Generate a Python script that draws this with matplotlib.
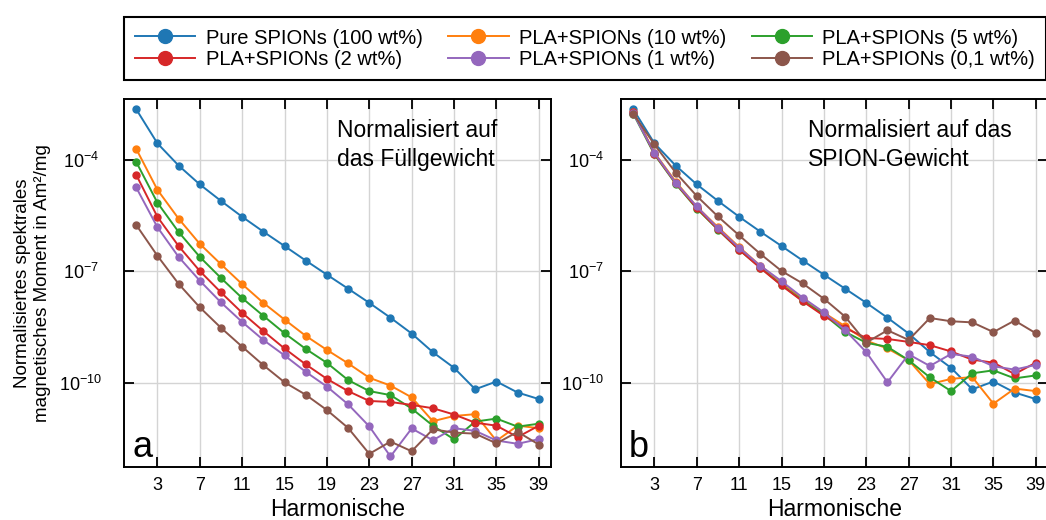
import numpy as np
import matplotlib
matplotlib.use("Agg")
import matplotlib.pyplot as plt

plt.rcParams['font.family'] = ['Liberation Sans', 'DejaVu Sans']
plt.rcParams['mathtext.fontset'] = 'custom'
plt.rcParams['mathtext.rm'] = 'Liberation Sans'
plt.rcParams['mathtext.it'] = 'Liberation Sans:italic'
plt.rcParams['mathtext.bf'] = 'Liberation Sans:bold'

# odd harmonics
harmonics = np.arange(1, 40, 2)

labels = ['Pure SPIONs (100 wt%)', 'PLA+SPIONs (10 wt%)', 'PLA+SPIONs (5 wt%)',
          'PLA+SPIONs (2 wt%)', 'PLA+SPIONs (1 wt%)', 'PLA+SPIONs (0,1 wt%)']
colors = ['#1f77b4', '#ff7f0e', '#2ca02c', '#d62728', '#9467bd', '#8c564b']
# SPION mass fraction in wt%
wt = [100, 10, 5, 2, 1, 0.1]

# spectral moment normalised to fill weight (Am^2/mg)
pure_100 = [2.34e-3, 2.82e-4, 7.1e-5, 2.2e-5, 7.9e-6, 2.95e-6, 1.17e-6, 4.8e-7,
            1.95e-7, 8.1e-8, 3.4e-8, 1.41e-8, 5.6e-9, 2.1e-9, 6.6e-10, 2.5e-10,
            6.6e-11, 1.07e-10, 5.4e-11, 3.6e-11]
pla_10 = [2.0e-4, 1.58e-5, 2.63e-6, 5.5e-7, 1.55e-7, 4.5e-8, 1.41e-8, 5.0e-9,
          1.82e-9, 7.6e-10, 3.3e-10, 1.35e-10, 8.3e-11, 4.0e-11, 9.1e-12,
          1.26e-11, 1.41e-11, 2.7e-12, 6.9e-12, 5.9e-12]
pla_5 = [8.9e-5, 7.1e-6, 1.15e-6, 2.45e-7, 6.6e-8, 1.9e-8, 6.3e-9, 2.14e-9,
         8.1e-10, 3.4e-10, 1.17e-10, 5.9e-11, 4.6e-11, 2.0e-11, 6.9e-12,
         2.95e-12, 8.9e-12, 1.07e-11, 6.5e-12, 7.8e-12]
pla_2 = [4.0e-5, 2.95e-6, 4.8e-7, 1.02e-7, 2.7e-8, 7.6e-9, 2.45e-9, 8.3e-10,
         3.1e-10, 1.26e-10, 5.9e-11, 3.2e-11, 3.0e-11, 2.5e-11, 2.04e-11,
         1.38e-11, 8.3e-12, 6.9e-12, 3.4e-12, 6.9e-12]
pla_1 = [1.82e-5, 1.55e-6, 2.45e-7, 5.6e-8, 1.45e-8, 4.3e-9, 1.41e-9, 5.4e-10,
         1.95e-10, 7.8e-11, 2.6e-11, 6.6e-12, 1.02e-12, 5.8e-12, 2.8e-12,
         5.9e-12, 5.0e-12, 2.75e-12, 2.24e-12, 3.0e-12]
pla_01 = [1.78e-6, 2.63e-7, 4.6e-8, 1.07e-8, 3.0e-9, 9.3e-10, 2.95e-10,
          1.02e-10, 4.7e-11, 1.82e-11, 6.0e-12, 1.2e-12, 2.57e-12, 1.41e-12,
          5.5e-12, 4.5e-12, 4.2e-12, 2.3e-12, 4.7e-12, 2.14e-12]

series = [pure_100, pla_10, pla_5, pla_2, pla_1, pla_01]

W, H = 1046, 520
fig = plt.figure(figsize=(W / 100, H / 100), dpi=100)

ax_w = 427 / W
ax_h = 368 / H
ax_b = (H - 467) / H
ax_a = fig.add_axes([124 / W, ax_b, ax_w, ax_h])
ax_bb = fig.add_axes([621 / W, ax_b, ax_w, ax_h])

handles = []
for ax, panel in [(ax_a, 'a'), (ax_bb, 'b')]:
    for vals, w, c, lab in zip(series, wt, colors, labels):
        y = np.array(vals)
        if panel == 'b':
            y = y * 100.0 / w   # normalise to SPION weight
        ln, = ax.plot(harmonics, y, '-o', color=c, lw=1.4, ms=5, label=lab)
        if panel == 'a':
            handles.append(ln)

    ax.set_yscale('log')
    ax.set_xlim(-0.15, 40.15)
    ax.set_ylim(10 ** -12.275, 10 ** -2.356)
    ax.set_xticks(np.arange(3, 40, 4))
    ax.set_yticks([1e-10, 1e-7, 1e-4])
    ax.set_yticklabels([r'$10^{-10}$', r'$10^{-7}$', r'$10^{-4}$'])
    ax.yaxis.set_minor_locator(matplotlib.ticker.NullLocator())
    ax.grid(True, color='#d4d4d4', lw=1.0)
    ax.set_axisbelow(True)
    ax.tick_params(direction='in', top=True, right=True, length=7, width=1.3,
                   labelsize=13)
    ax.tick_params(axis='x', pad=7)
    for s in ax.spines.values():
        s.set_linewidth(1.4)
    ax.set_xlabel('Harmonische', fontsize=16.5, labelpad=3)
    ax.text(0.019, 0.027, panel, transform=ax.transAxes, fontsize=26,
            va='baseline', ha='left')

# panel a: tick labels centred, panel b: right aligned
ax_a.tick_params(axis='y', pad=31)
for t in ax_a.get_yticklabels():
    t.set_ha('center')
ax_bb.tick_params(axis='y', pad=12)

ax_a.set_ylabel('Normalisiertes spektrales\nmagnetisches Moment in Am²/mg',
                fontsize=13.5, labelpad=6, linespacing=1.2)

ax_a.text(0.499, 0.945, 'Normalisiert auf\ndas Füllgewicht',
          transform=ax_a.transAxes, fontsize=16.5, va='top', ha='left',
          linespacing=1.3)
ax_bb.text(0.438, 0.945, 'Normalisiert auf das\nSPION-Gewicht',
           transform=ax_bb.transAxes, fontsize=16.5, va='top', ha='left',
           linespacing=1.3)

# legend reads row by row, matplotlib fills columns first
order = [0, 3, 1, 4, 2, 5]
leg = fig.legend([handles[i] for i in order], [labels[i] for i in order],
                 loc='lower left',
                 bbox_to_anchor=(124 / W, (H - 80) / H, (W - 124) / W, 67 / H),
                 mode='expand', ncol=3, borderaxespad=0, fontsize=14.5,
                 handlelength=3.0, markerscale=2.0, labelspacing=0.12,
                 borderpad=0.55, handletextpad=0.5, fancybox=False,
                 edgecolor='black', framealpha=1)
leg.get_frame().set_linewidth(1.5)

fig.savefig('out.png', dpi=100)
